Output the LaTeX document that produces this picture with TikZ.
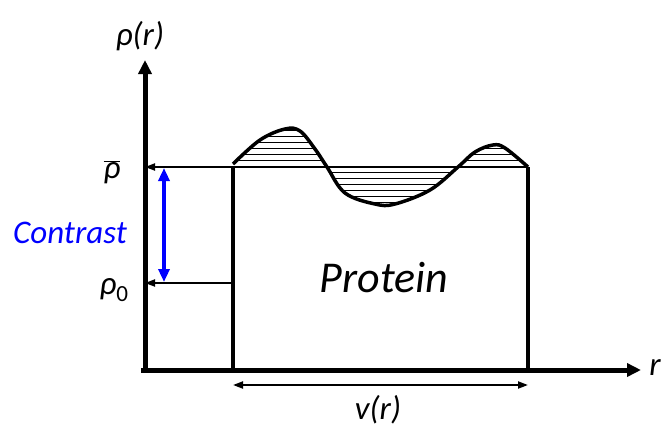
\documentclass[tikz,border=0pt]{standalone}
\usepackage{fontspec}
\setmainfont{Carlito}
\usetikzlibrary{arrows.meta}
\begin{document}
\begin{tikzpicture}[x=1pt,y=-1pt,
  axis/.style={line width=5pt,-{Triangle[length=14pt,width=13pt]}},
  thin arrow/.style={line width=2pt,-{Triangle[length=10pt,width=7pt]}},
  boxline/.style={line width=3.5pt},
  lbl/.style={inner sep=0pt,font=\itshape\fontsize{33}{38}\selectfont}]
\useasboundingbox (0,0) rectangle (664,429);
% coordinates
\coordinate (O) at (141,370);
\coordinate (ytop) at (145,60);
\coordinate (xend) at (641,370);
\coordinate (BL) at (233,370);
\coordinate (BR) at (528,370);
\coordinate (TL) at (233,167);
\coordinate (TR) at (528,167);
\coordinate (mid) at (233,283);
\coordinate (yb) at (145,167);
\coordinate (y0) at (145,283);
% hatching
\begin{scope}
\clip plot[smooth,tension=0.6] coordinates {(233,164) (260,140) (285,129) (300,131) (315,149) (327,167) (345,193) (375,204) (395,204) (430,190) (458,167) (475,152) (493,145) (505,148) (528,167)} -- (233,167) -- cycle;
\foreach \yy in {130,136,...,206} \draw[line width=1pt] (225,\yy) -- (535,\yy);
\end{scope}
% curve
\draw[line width=3.5pt,line join=round] plot[smooth,tension=0.6] coordinates {(233,164) (260,140) (285,129) (300,131) (315,149) (327,167) (345,193) (375,204) (395,204) (430,190) (458,167) (475,152) (493,145) (505,148) (528,167)};
% box
\draw[boxline] (BL) -- (TL);
\draw[boxline] (BR) -- (TR);
\draw[line width=2.5pt] (TL) -- (TR);
% axes
\draw[axis] (O) -- (xend);
\draw[axis] (145,372) -- (ytop);
% level arrows
\draw[thin arrow] (TL) -- (yb);
\draw[thin arrow] (mid) -- (y0);
% contrast
\coordinate (c1) at (164,168);
\coordinate (c2) at (164,282);
\draw[blue,line width=3.5pt,{Triangle[length=13pt,width=11pt]}-{Triangle[length=13pt,width=11pt]}] (c1) -- (c2);
\node[lbl,text=blue,anchor=center] (contrast) at (70,233) {Contrast};
% labels
\node[lbl,anchor=center] (rhor) at (140,36) {ρ(r)};
\node[lbl,anchor=center] (rhobar) at (112,172) {$\overline{\mbox{ρ}}$};
\node[lbl,anchor=center] (rho0) at (114,290) {ρ\textsubscript{\upshape 0}};
\node[lbl,anchor=center] (rlab) at (655,368) {r};
\node[inner sep=0pt,font=\itshape\fontsize{44}{50}\selectfont] (prot) at (384,278) {Protein};
% v(r)
\coordinate (v1) at (233,385);
\coordinate (v2) at (528,385);
\draw[line width=2pt,{Triangle[length=10pt,width=7pt]}-{Triangle[length=10pt,width=7pt]}] (v1) -- (v2);
\node[lbl,anchor=center] (vr) at (378,410) {v(r)};
\end{tikzpicture}
\end{document}
